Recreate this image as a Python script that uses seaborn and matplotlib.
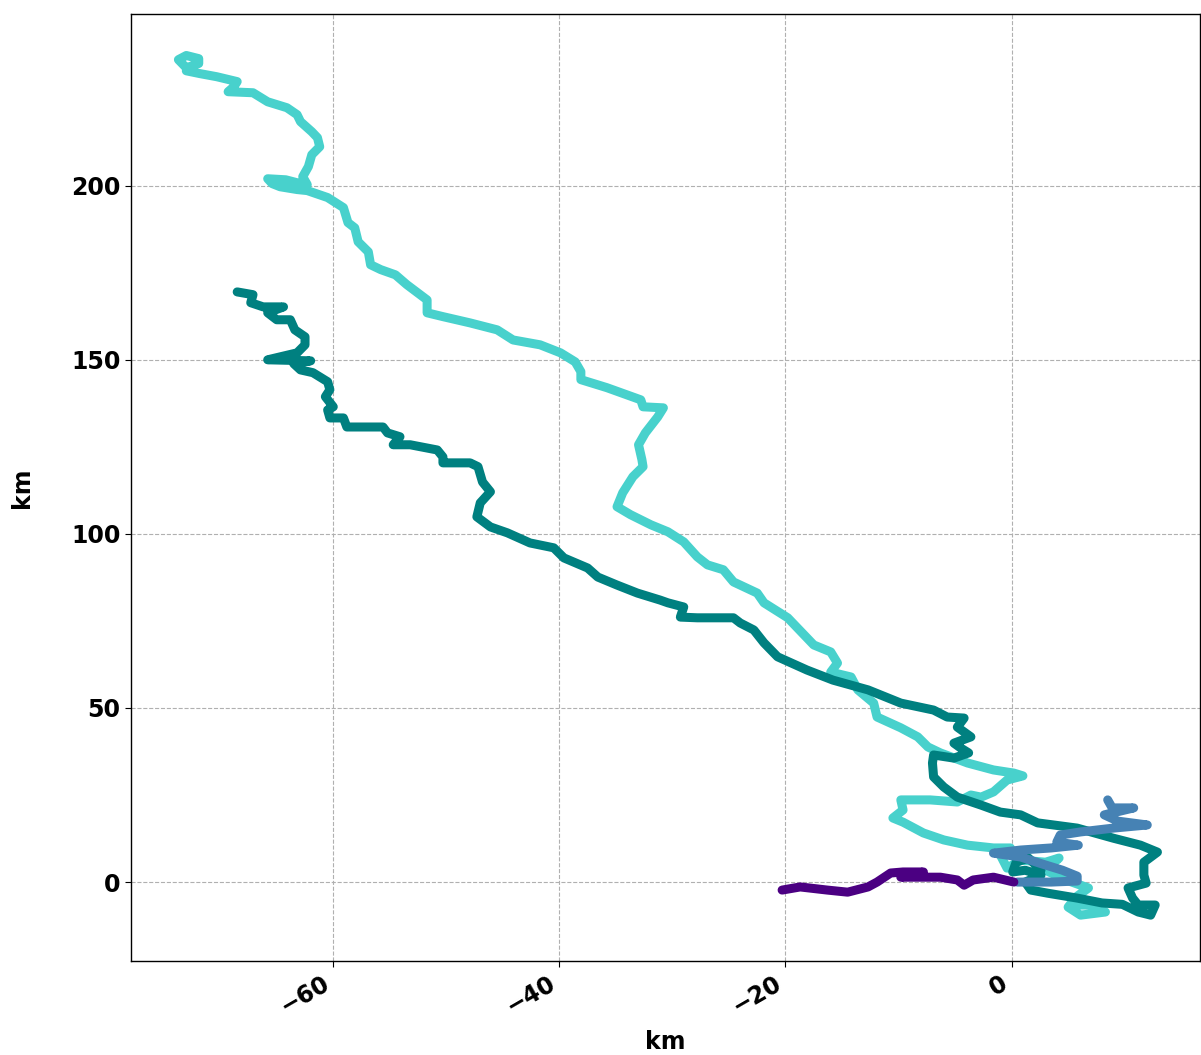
import numpy as np
import pandas as pd
import matplotlib
matplotlib.use("Agg")
import matplotlib.pyplot as plt
import seaborn as sns

# drifter tracks, km east / km north of the release point
turq_x = [-73.1, -73.7, -73.0, -71.9, -71.9, -72.7, -73.0, -71.8, -70.3, -68.5,
          -68.8, -69.3, -67.1, -65.8, -64.1, -63.2, -62.9, -61.9, -61.4, -61.2,
          -61.9, -62.2, -62.7, -62.3, -62.9, -64.2, -65.8, -65.4, -64.7, -63.2,
          -62.3, -60.5, -59.1, -58.7, -58.1, -57.8, -56.9, -56.7, -55.8, -54.5,
          -53.5, -51.7, -51.7, -50.3, -47.9, -45.5, -44.1, -41.7, -39.9, -38.6,
          -38.1, -38.1, -35.8, -32.8, -32.6, -30.8, -31.3, -32.4, -33.0, -32.7,
          -32.6, -33.5, -34.4, -34.9, -33.7, -31.9, -30.4, -29.0, -27.8, -26.9,
          -25.5, -24.6, -22.5, -21.9, -19.8, -17.5, -16.0, -15.4, -16.0, -14.2,
          -13.6, -12.2, -11.9, -9.8, -8.3, -7.4, -6.3, -3.9, -1.6, 0.2,
          1.0, -0.4, -1.6, -2.7, -3.6, -4.8, -7.2, -9.8, -9.6, -10.5,
          -9.6, -7.8, -6.0, -3.9, -1.6, -0.1, -1.0, -0.4, 0.8, 3.0,
          4.2, 3.0, 4.8, 6.8, 5.7, 5.0, 6.1, 8.3, 7.4, 5.7]
turq_y = [234.2, 236.2, 237.4, 236.5, 235.1, 234.2, 233.0, 232.2, 231.3, 229.9,
          228.4, 227.0, 226.7, 224.1, 222.4, 220.4, 218.4, 215.5, 213.8, 211.2,
          208.9, 205.5, 202.6, 200.3, 200.6, 201.7, 202.0, 200.6, 199.7, 198.9,
          198.6, 196.6, 193.7, 189.4, 187.9, 183.9, 181.0, 177.3, 175.9, 174.4,
          171.6, 167.2, 163.5, 162.4, 160.6, 158.6, 155.7, 154.3, 152.0, 149.4,
          146.6, 144.3, 142.0, 138.5, 136.5, 136.2, 133.6, 129.0, 125.6, 121.3,
          119.3, 116.4, 111.8, 107.8, 105.5, 102.6, 100.6, 97.7, 93.4, 91.1,
          89.7, 86.2, 83.0, 80.2, 75.9, 68.1, 66.1, 62.9, 60.3, 58.9,
          55.2, 51.4, 47.4, 44.3, 41.7, 38.8, 37.1, 34.2, 32.2, 31.3,
          30.5, 29.3, 25.9, 24.4, 25.0, 23.0, 23.6, 23.6, 20.7, 18.4,
          17.2, 14.1, 12.1, 10.6, 9.8, 9.8, 7.8, 4.0, 6.3, 5.7,
          6.9, 3.4, 0.6, -1.7, -4.3, -7.2, -9.5, -8.6, -6.6, -6.6]

teal_x = [-68.5, -67.1, -67.3, -66.2, -64.4, -65.8, -65.0, -63.8, -63.4, -62.5,
          -62.5, -63.2, -65.8, -62.0, -63.5, -62.9, -61.8, -60.5, -60.3, -60.7,
          -60.0, -60.5, -60.3, -59.1, -58.8, -57.6, -55.6, -55.2, -54.1, -54.7,
          -53.2, -50.8, -50.3, -50.3, -47.9, -47.2, -46.8, -46.1, -47.0, -47.3,
          -46.1, -44.6, -42.6, -40.5, -39.6, -37.5, -36.6, -34.9, -33.1, -31.1,
          -30.4, -29.0, -29.3, -27.8, -24.6, -24.0, -22.8, -21.9, -20.7, -18.1,
          -15.8, -12.7, -9.8, -6.9, -5.7, -4.2, -4.8, -3.6, -5.1, -4.5,
          -3.8, -5.1, -6.9, -7.0, -6.9, -6.0, -4.8, -2.7, -1.0, 0.8,
          2.3, 5.8, 9.0, 11.4, 12.9, 11.7, 11.7, 11.9, 10.3, 10.7,
          11.2, 12.7, 12.3, 11.2, 9.8, 8.0, 5.8, 3.2, 1.7, 1.2, 2.6,
          1.2, 0.1, 0.4, 1.5, 2.6]
teal_y = [169.5, 168.7, 166.4, 165.2, 165.2, 163.5, 161.5, 161.5, 158.6, 156.6,
          154.3, 152.0, 150.0, 149.7, 148.9, 147.1, 146.3, 143.7, 141.4, 139.4,
          136.5, 135.6, 133.3, 133.3, 130.7, 130.7, 130.7, 129.0, 127.9, 125.6,
          125.6, 124.1, 122.1, 120.4, 120.4, 119.3, 114.9, 112.1, 108.9, 104.9,
          102.0, 100.3, 97.4, 96.0, 93.1, 90.2, 87.6, 85.3, 83.0, 81.0,
          80.2, 79.0, 76.1, 75.9, 75.9, 74.4, 72.4, 68.7, 64.7, 60.9,
          58.0, 55.2, 51.4, 49.4, 47.4, 47.1, 44.5, 41.7, 39.9, 38.5,
          37.1, 35.6, 36.5, 34.2, 30.2, 27.3, 24.4, 22.1, 20.1, 19.3,
          17.0, 15.5, 12.6, 10.6, 8.6, 5.7, 2.0, -0.3, -1.7, -4.6,
          -6.6, -6.6, -9.5, -8.6, -6.4, -6.0, -4.6, -3.2, -2.3, 0.0, 2.0,
          3.4, 2.9, 5.7, 6.9, 3.4]

steel_x = [8.5, 8.9, 10.8, 8.2, 9.4, 12.0, 9.0, 6.1, 4.3, 4.0,
           5.9, 3.5, 0.8, -1.6, 0.8, 2.7, 4.5, 5.8, 5.8, 3.5, 0.5]
steel_y = [23.6, 21.3, 21.3, 19.3, 17.5, 16.4, 15.5, 14.4, 13.5, 11.5,
           10.6, 9.8, 9.2, 8.3, 7.2, 5.2, 3.4, 1.7, 0.3, 0.0, 0.0]

indigo_x = [-20.3, -18.7, -16.3, -14.5, -12.7, -11.9, -10.7, -9.6, -7.8, -9.8,
            -8.1, -6.3, -4.8, -4.2, -3.4, -1.6, 0.2]
indigo_y = [-2.3, -1.4, -2.3, -2.9, -1.4, 0.0, 2.6, 2.9, 2.9, 1.4,
            1.4, 1.4, 0.6, -0.9, 0.6, 1.4, 0.0]

tracks = [
    (turq_x, turq_y, "#48D1CC"),
    (teal_x, teal_y, "#008080"),
    (steel_x, steel_y, "#4682B4"),
    (indigo_x, indigo_y, "#4B0082"),
]

sns.set_style("ticks")
plt.rcParams["font.family"] = ["DejaVu Sans"]
plt.rcParams["font.weight"] = "bold"
plt.rcParams["text.color"] = "black"
plt.rcParams["axes.labelcolor"] = "black"
plt.rcParams["xtick.color"] = "black"
plt.rcParams["ytick.color"] = "black"

fig, ax = plt.subplots(figsize=(12.01, 10.55), dpi=100)
fig.subplots_adjust(left=0.109, right=0.9995, top=0.987, bottom=0.089)

for xs, ys, col in tracks:
    df = pd.DataFrame({"x": xs, "y": ys})
    sns.lineplot(data=df, x="x", y="y", sort=False, estimator=None,
                 color=col, lw=6.5, ax=ax,
                 solid_capstyle="round", solid_joinstyle="round")

ax.set_xlim(-77.9, 16.7)
ax.set_ylim(-22.7, 249.4)
ax.set_xticks([-60, -40, -20, 0])
ax.set_yticks([0, 50, 100, 150, 200])
ax.grid(True, ls="--", color="#b0b0b0", lw=0.8)
ax.set_axisbelow(True)

ax.tick_params(labelsize=17, length=4, colors="black")
for lab in ax.get_xticklabels() + ax.get_yticklabels():
    lab.set_fontweight("bold")
plt.setp(ax.get_xticklabels(), rotation=30, ha="right")

ax.set_xlabel("km", fontsize=17, fontweight="bold", labelpad=8)
ax.set_ylabel("km", fontsize=17, fontweight="bold", labelpad=27)

for sp in ax.spines.values():
    sp.set_color("black")
    sp.set_linewidth(1.0)

fig.savefig("out.png", dpi=100)
